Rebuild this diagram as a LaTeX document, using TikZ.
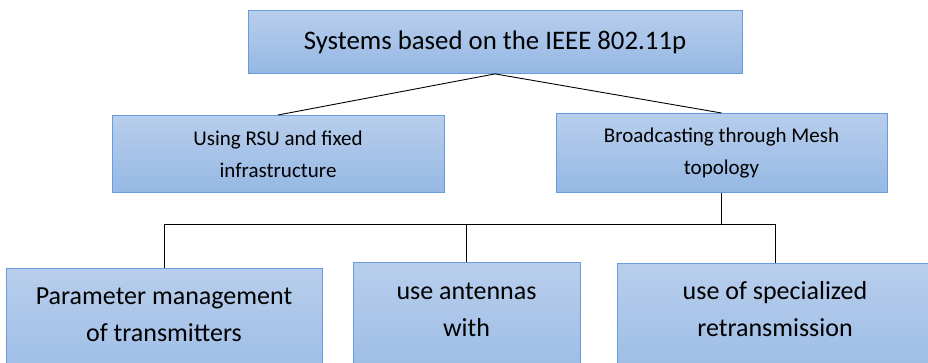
\documentclass[tikz,border=0pt]{standalone}
\usepackage{fontspec}
\setmainfont{Carlito}
\begin{document}
\begin{tikzpicture}[x=1pt,y=-1pt,
  box/.style={draw=boxedge, line width=0.9pt, top color=boxtop, bottom color=boxbot,
    align=center, inner sep=0pt, anchor=north},
  link/.style={draw=black, line width=0.9pt}]
\definecolor{boxtop}{RGB}{184,206,236}
\definecolor{boxbot}{RGB}{149,184,228}
\definecolor{boxedge}{RGB}{104,156,220}
\useasboundingbox (0,0) rectangle (928,363);
\clip (0,0) rectangle (928,363);

% top level
\node[box, minimum width=494pt, minimum height=63pt,
  font=\fontsize{26.8}{32}\selectfont] (root) at (495,10)
  {Systems based on the IEEE 802.11p};

% second level
\node[box, minimum width=332pt, minimum height=77pt,
  font=\fontsize{21}{32}\selectfont] (rsu) at (278,115)
  {Using RSU and fixed\\infrastructure};
\node[box, minimum width=331pt, minimum height=79pt,
  font=\fontsize{21}{32}\selectfont] (mesh) at (721.5,113)
  {Broadcasting through Mesh\\topology};

% third level (runs past the lower edge)
\node[box, minimum width=316pt, minimum height=140pt,
  font=\fontsize{26}{37}\selectfont] (param) at (164,268)
  {Parameter management\\of transmitters\\\strut};
\node[box, minimum width=227pt, minimum height=142pt,
  font=\fontsize{26}{37}\selectfont] (ant) at (466.5,262)
  {use antennas\\with\\\strut};
\node[box, minimum width=316pt, minimum height=140pt,
  font=\fontsize{26}{37}\selectfont] (retx) at (775,263)
  {use of specialized\\retransmission\\\strut};

% connectors
\draw[link] (root.south) -- (rsu.north);
\draw[link] (root.south) -- (mesh.north);
\coordinate (bus) at (721.5,224);
\draw[link] (mesh.south) -- (bus);
\draw[link] (param.north) -- (param.north |- bus) -- (retx.north |- bus) -- (retx.north);
\draw[link] (ant.north) -- (ant.north |- bus);
\end{tikzpicture}
\end{document}
